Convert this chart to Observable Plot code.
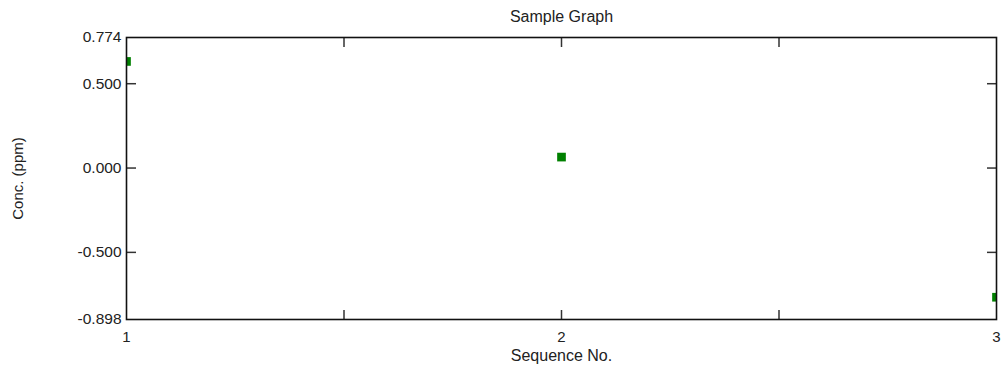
<!DOCTYPE html>
<html>
<head>
<meta charset="utf-8">
<script src="https://cdn.jsdelivr.net/npm/d3@7"></script>
<script src="https://cdn.jsdelivr.net/npm/@observablehq/plot@0.6"></script>
<style>
  html, body { margin: 0; padding: 0; background: #fff; }
  svg { display: block; }
</style>
</head>
<body>
<div id="chart"></div>
<script>
const sequence = [1, 2, 3];
const conc = [0.632, 0.065, -0.766];
const yTickLabels = [0.774, 0.5, 0, -0.5, -0.898];
const yInnerTicks = [0.5, 0, -0.5];
const xTickLabels = [1, 2, 3];
const xInnerTicks = [1.5, 2, 2.5];
const title = "Sample Graph";
const xLabel = "Sequence No.";
const yLabel = "Conc. (ppm)";

const data = sequence.map((s, i) => ({seq: s, conc: conc[i]}));
const font = "Liberation Sans, Arial, sans-serif";

const chart = Plot.plot({
  width: 1001,
  height: 369,
  marginLeft: 126,
  marginRight: 5,
  marginTop: 37,
  marginBottom: 50,
  style: {fontFamily: font, fontSize: "15px", color: "#222", background: "#fff"},
  x: {domain: [1, 3], label: null},
  y: {domain: [-0.898, 0.774], label: null},
  marks: [
    Plot.dot(data, {x: "seq", y: "conc", symbol: "square", r: 4.9, fill: "#008000", stroke: "none", clip: true}),
    Plot.axisY({anchor: "left", ticks: yTickLabels, tickSize: 0, tickPadding: 5, tickFormat: d => d.toFixed(3), label: null, fontSize: 15.5}),
    Plot.axisY({anchor: "left", ticks: yInnerTicks, tickSize: -10, text: null, label: null, stroke: "#333", strokeWidth: 1.5}),
    Plot.axisY({anchor: "right", ticks: yInnerTicks, tickSize: -10, text: null, label: null, stroke: "#333", strokeWidth: 1.5}),
    Plot.axisX({anchor: "bottom", ticks: xTickLabels, tickSize: 0, tickPadding: 12, tickFormat: d => String(d), label: null, fontSize: 15}),
    Plot.axisX({anchor: "bottom", ticks: xInnerTicks, tickSize: -9, text: null, label: null, stroke: "#333", strokeWidth: 1.5}),
    Plot.axisX({anchor: "top", ticks: xInnerTicks, tickSize: -9, text: null, label: null, stroke: "#333", strokeWidth: 1.5}),
    Plot.frame({stroke: "#111", strokeWidth: 1.6}),
    Plot.text([title], {frameAnchor: "top", dy: -27, text: d => d, fontSize: 16, fill: "#222"}),
    Plot.text([xLabel], {frameAnchor: "bottom", dy: 41, text: d => d, fontSize: 16, fill: "#222"}),
    Plot.text([yLabel], {frameAnchor: "left", textAnchor: "middle", dx: -108, rotate: -90, text: d => d, fontSize: 15, fill: "#222"})
  ]
});
document.getElementById("chart").appendChild(chart);
</script>
</body>
</html>
